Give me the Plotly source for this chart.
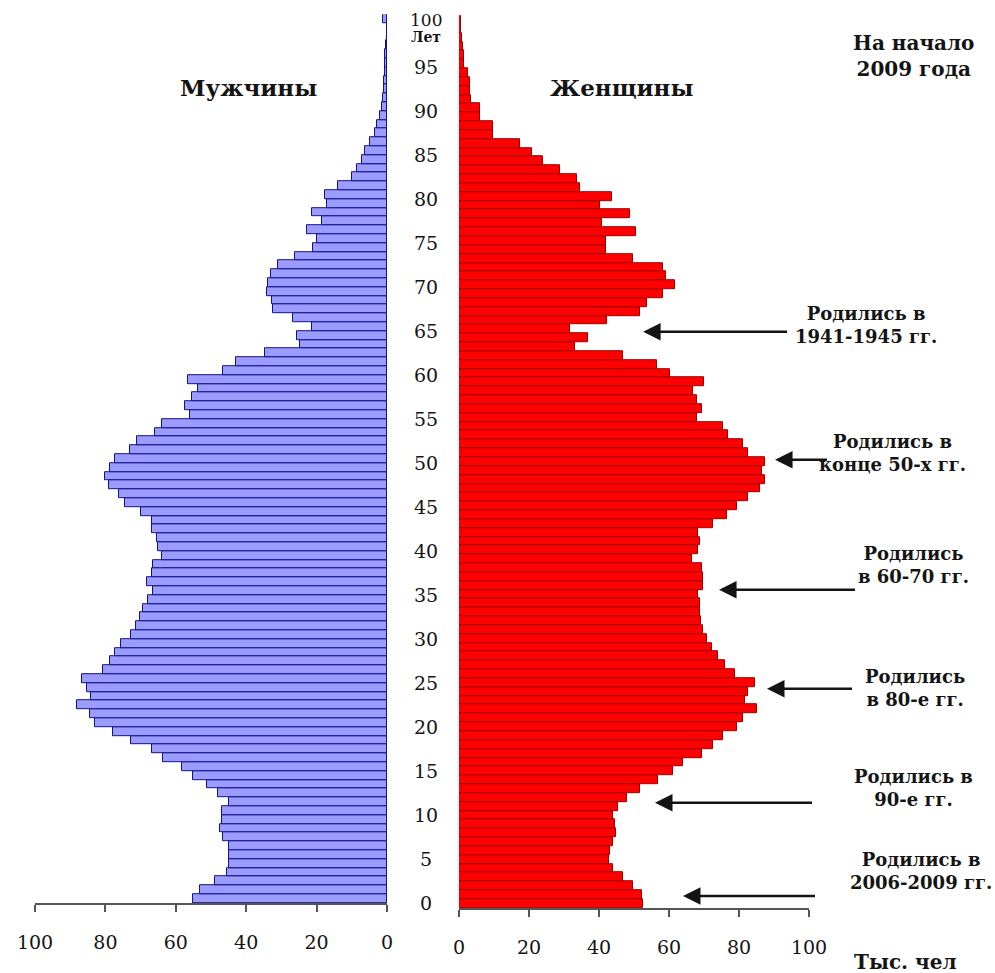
import plotly.graph_objects as go

# Single-year age groups, 0 .. 100+
ages = list(range(0, 101))

# Population, thousand persons, at the start of 2009
men = [
    55, 53, 48.9, 45.5, 45, 45, 45, 46.5, 47.4, 47,
    47, 45, 47.9, 51.2, 55, 58.3, 63.6, 66.8, 72.6, 77.8,
    83, 84.4, 88.2, 84, 85.3, 86.7, 80.6, 78.7, 77.3, 75.5,
    72.6, 71.2, 70.2, 69.2, 67.8, 66.4, 68.3, 66.8, 66.4, 64,
    65, 65.4, 66.8, 66.8, 70, 74.4, 76, 79, 80, 78.7,
    77.3, 73, 71, 66, 64, 56, 57.4, 55.5, 53.6, 56.4,
    46.5, 43, 34.7, 24.7, 25.6, 21.4, 26.6, 32.3, 32.7, 34,
    33.7, 33, 31, 26, 21, 20, 22.7, 18.5, 21.4, 17,
    17.6, 13.9, 10, 8.5, 7.1, 6.2, 4.8, 3.4, 2.8, 2.0,
    1.5, 1.1, 0.9, 0.8, 0.7, 0.6, 0.5, 0.3, 0, 0,
    1.0,
]
women = [
    52.7, 52.2, 49.8, 46.9, 44.1, 42.9, 43.1, 44.1, 44.9, 44.6,
    44.1, 45.5, 47.9, 51.7, 56.9, 61.2, 64.1, 69.3, 72.7, 75.5,
    79.3, 81.2, 85.1, 81.7, 82.7, 84.6, 78.9, 76, 74.1, 72.2,
    70.8, 69.8, 69.2, 68.9, 68.9, 68.4, 69.8, 69.8, 69.3, 66.5,
    68.4, 68.9, 68.4, 72.7, 76.5, 79.3, 82.7, 86, 87.4, 86.5,
    87.4, 82.7, 81.2, 76.9, 75.5, 67.9, 69.3, 67.9, 66.9, 70,
    60.3, 56.5, 46.8, 33.1, 36.9, 31.7, 42.2, 51.7, 53.6, 58.3,
    61.7, 59.1, 58.4, 49.8, 42, 42, 50.6, 40.8, 48.9, 40.3,
    43.6, 34.6, 33.6, 28.9, 24, 20.8, 17.4, 9.8, 9.8, 6,
    6, 3.3, 3, 3, 2.7, 1.4, 1.4, 1.0, 0.8, 0.6,
    0.5,
]

scale_ticks = [0, 20, 40, 60, 80, 100]
scale_labels = ["0", "20", "40", "60", "80", "100"]
age_ticks = list(range(0, 101, 5))

# Cohort notes: text, arrow target (thousand persons, age), tail offset in px,
# text centre in page fractions
notes = [
    ("Родились в<br>1941-1945 гг.", 52.6, 65.2, 147, 0.870, 0.666),
    ("Родились в<br>конце 50-х гг.", 90.3, 50.7, 55, 0.897, 0.534),
    ("Родились<br>в 60-70 гг.", 74.3, 36.0, 139, 0.918, 0.419),
    ("Родились<br>в 80-е гг.", 88.0, 24.8, 88, 0.920, 0.293),
    ("Родились в<br>90-е гг.", 56.0, 11.9, 160, 0.918, 0.190),
    ("Родились в<br>2006-2009 гг.", 64.0, 1.36, 135, 0.926, 0.105),
]

SERIF = "DejaVu Serif"
INK = "#141414"

fig = go.Figure()
fig.add_trace(go.Bar(
    x=men, y=ages, orientation="h", width=1, offset=0,
    marker=dict(color="#9c9cff", line=dict(color="#10108a", width=1)),
    xaxis="x", yaxis="y", showlegend=False, hoverinfo="skip",
))
fig.add_trace(go.Bar(
    x=women, y=ages, orientation="h", width=1, offset=0,
    marker=dict(color="#ff0000", line=dict(color="#a00000", width=1)),
    xaxis="x2", yaxis="y2", showlegend=False, hoverinfo="skip",
))

axis_common = dict(
    tickvals=scale_ticks, ticktext=scale_labels,
    showline=True, linecolor="#555555", linewidth=1.5,
    ticks="outside", ticklen=7, tickwidth=1.5, tickcolor="#555555",
    showgrid=False, zeroline=False,
    tickfont=dict(family=SERIF, size=19, color=INK),
    ticklabelstandoff=14,
)

annotations = []
for a in age_ticks:
    annotations.append(dict(
        x=0.428, y=100.3 if a == 100 else a, xref="paper", yref="y",
        text=str(a), showarrow=False, xanchor="center", yanchor="middle",
        font=dict(family=SERIF, size=17 if a == 100 else 19, color=INK),
    ))
annotations.append(dict(
    x=0.428, y=98.4, xref="paper", yref="y", text="Лет", showarrow=False,
    xanchor="center", yanchor="middle",
    font=dict(family=SERIF, size=14, color=INK, weight="bold"),
))

for text, val, age, tail, tx, ty in notes:
    annotations.append(dict(
        x=val, y=age, xref="x2", yref="y2", text=" ", showarrow=True,
        ax=tail, ay=0, arrowhead=2, arrowsize=1.4, arrowwidth=2.5,
        arrowcolor=INK, standoff=0, startstandoff=0,
    ))
    annotations.append(dict(
        x=tx, y=ty, xref="paper", yref="paper", text=text, showarrow=False,
        xanchor="center", yanchor="middle",
        font=dict(family=SERIF, size=18, color=INK, weight="bold"),
        align="center",
    ))

titles = [
    ("Мужчины", 0.250, 0.910, 23),
    ("Женщины", 0.625, 0.910, 23),
    ("На начало<br>2009 года", 0.918, 0.942, 20),
    ("Тыс. чел", 0.910, 0.011, 20),
]
for text, tx, ty, size in titles:
    annotations.append(dict(
        x=tx, y=ty, xref="paper", yref="paper", text=text, showarrow=False,
        xanchor="center", yanchor="middle",
        font=dict(family=SERIF, size=size, color=INK, weight="bold"),
        align="center",
    ))

fig.update_layout(
    width=995, height=973,
    margin=dict(l=0, r=0, t=0, b=0, autoexpand=False),
    paper_bgcolor="white", plot_bgcolor="white",
    bargap=0,
    xaxis=dict(domain=[0.03518, 0.38894], range=[100, 0], anchor="y", **axis_common),
    xaxis2=dict(domain=[0.46131, 0.81307], range=[0, 100], anchor="y2", **axis_common),
    yaxis=dict(domain=[0.07194, 0.98541], range=[0, 101], visible=False, anchor="x"),
    yaxis2=dict(domain=[0.0668, 0.98438], range=[0, 101], visible=False, anchor="x2"),
    annotations=annotations,
)

fig.write_html("out.html")
